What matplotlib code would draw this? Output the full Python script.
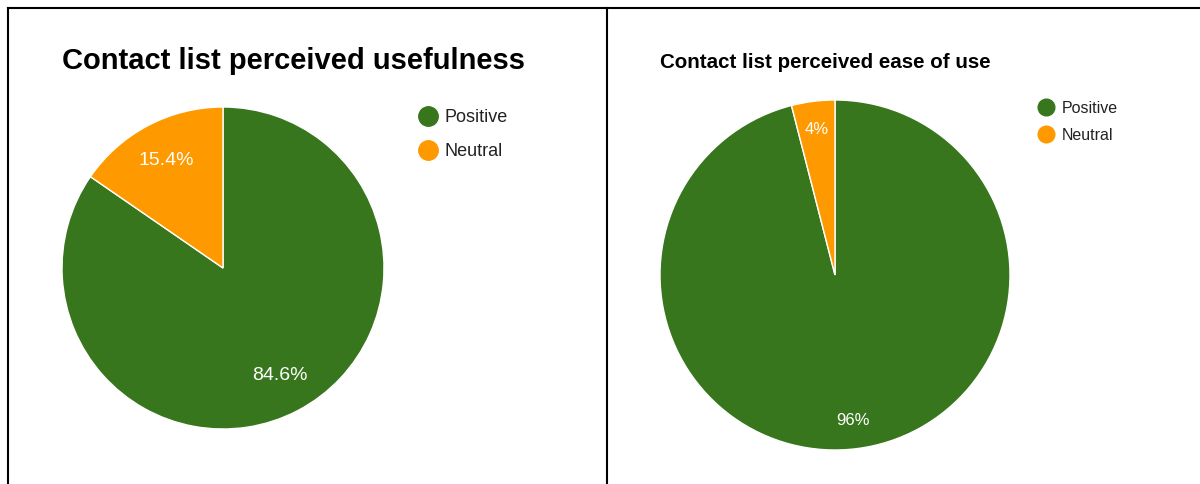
import matplotlib
matplotlib.use("Agg")
import matplotlib.pyplot as plt
from matplotlib.lines import Line2D

W, H = 1200, 484

labels = ["Positive", "Neutral"]
colors = ["#38761d", "#ff9900"]

useful_title = "Contact list perceived usefulness"
useful_vals = [84.6, 15.4]

ease_title = "Contact list perceived ease of use"
ease_vals = [96, 4]

plt.rcParams["font.family"] = ["Liberation Sans", "DejaVu Sans"]


def fx(x):
    return x / W


def fy(y):
    return 1 - y / H


def pie_axes(fig, cx, cy, r):
    return fig.add_axes([fx(cx - r), fy(cy + r), 2 * r / W, 2 * r / H])


def draw_pie(ax, values, fmt, pctdist, fsize):
    ax.pie(values, colors=colors, startangle=90, counterclock=False,
           autopct=fmt, pctdistance=pctdist,
           wedgeprops=dict(edgecolor="white", linewidth=1),
           textprops=dict(color="white", fontsize=fsize))
    ax.set_xlim(-1, 1)
    ax.set_ylim(-1, 1)
    ax.set_aspect("equal")
    ax.axis("off")


def draw_legend(fig, x, ys, msize, fsize, gap):
    for lab, col, y in zip(labels, colors, ys):
        fig.add_artist(Line2D([fx(x)], [fy(y)], marker="o", markersize=msize,
                              color=col, linestyle="", transform=fig.transFigure))
        fig.text(fx(x + gap), fy(y + 1.5), lab, fontsize=fsize, color="#222222",
                 ha="left", va="center")


fig = plt.figure(figsize=(W / 100, H / 100), dpi=100)

# left panel
ax1 = pie_axes(fig, 223, 268, 161)
draw_pie(ax1, useful_vals, "%.1f%%", 0.755, 14)
fig.text(fx(62), fy(61.5), useful_title, fontsize=21, fontweight="bold",
         ha="left", va="center", color="black")
draw_legend(fig, 428, [116, 150], 14, 13, 17)

# right panel
ax2 = pie_axes(fig, 835, 275, 175)
draw_pie(ax2, ease_vals, "%.0f%%", 0.84, 12)
fig.text(fx(660), fy(62.5), ease_title, fontsize=14.8, fontweight="bold",
         ha="left", va="center", color="black")
draw_legend(fig, 1046, [107, 134], 12, 11.5, 16)

# table cell borders
for xs, ys in [([8, 1200], [8, 8]), ([8, 8], [8, 484]), ([607, 607], [8, 484])]:
    fig.add_artist(Line2D([fx(v) for v in xs], [fy(v) for v in ys],
                          color="black", linewidth=1.5, transform=fig.transFigure))

fig.savefig("out.png", dpi=100)
